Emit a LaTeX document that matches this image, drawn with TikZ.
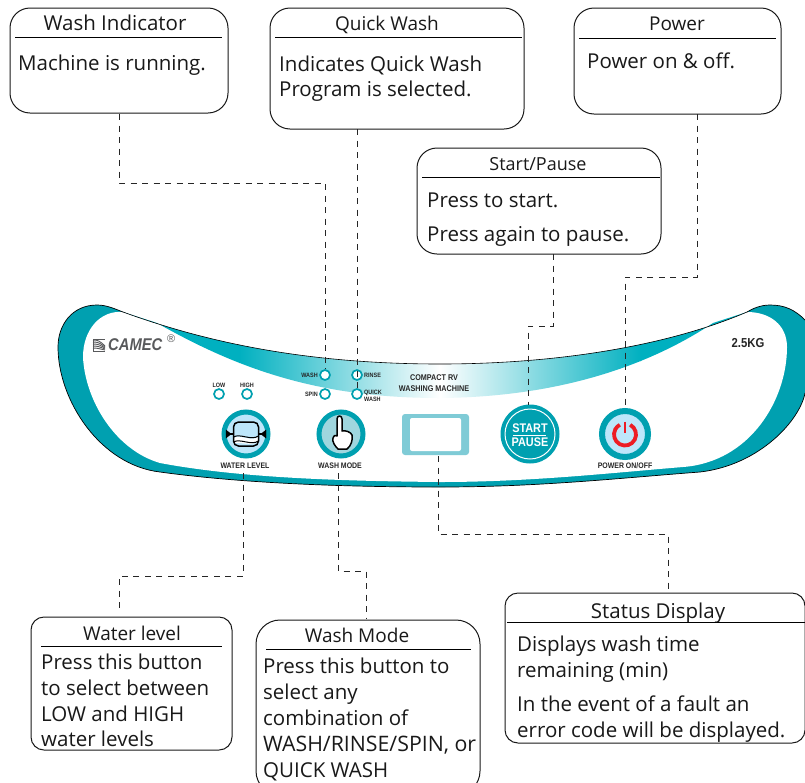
\documentclass[tikz,border=0pt]{standalone}
\usepackage{fontspec}
\setmainfont{Open Sans}
\newfontfamily\labfont[FakeStretch=0.87]{Liberation Sans}
\newfontfamily\plainlab{Liberation Sans}
\usetikzlibrary{calc}
\definecolor{teal1}{HTML}{00A0B0}
\definecolor{teal2}{HTML}{00B0C0}
\definecolor{ltblue}{HTML}{BDE6FA}
\definecolor{ltteal}{HTML}{9FD6DE}
\definecolor{frame}{HTML}{7FCBD6}
\definecolor{pwr}{HTML}{ED1C24}
\definecolor{logo}{HTML}{58595B}
\tikzset{
 callout/.style={draw=black!90,line width=1pt,rounded corners=20pt,fill=white,inner sep=0},
 title/.style={font=\fontsize{19}{19}\selectfont,anchor=base,inner sep=0,text=black!90},
 body/.style={font=\fontsize{20.5}{27}\selectfont,anchor=base west,inner sep=0,text=black!90},
 rule/.style={line width=0.8pt},
 lead/.style={dash pattern=on 6pt off 5.5pt,line width=0.95pt,black!85},
 led/.style={circle,draw=teal1,line width=1.7pt,minimum size=10pt,inner sep=0,fill=white},
 lab/.style={font=\labfont\bfseries\fontsize{6.3}{6.5}\selectfont,inner sep=0,text=black!85,align=center},
 mlab/.style={font=\labfont\bfseries\fontsize{8}{8}\selectfont,inner sep=0,text=black!85},
}
\begin{document}
\begin{tikzpicture}[x=1pt,y=-1pt]
\useasboundingbox (0,0) rectangle (805,782);
\fill[white] (0,0) rectangle (805,782);
% panel
\fill[teal1] (97,305) .. controls (72,305) and (58,325) .. (58,347)
 .. controls (58,400) and (100,465) .. (160,472)
 .. controls (240,483) and (340,487) .. (440,487)
 .. controls (540,487) and (620,478) .. (700,472)
 .. controls (760,465) and (800,420) .. (805,393)
 -- (805,320) .. controls (795,310) and (785,305) .. (770,305)
 .. controls (760,305) and (752,309) .. (747,312)
 -- (123,312) .. controls (115,309) and (107,305) .. (97,305) -- cycle;
\fill[white] (123,312) .. controls (100,310) and (83,330) .. (83,357)
 .. controls (85,400) and (115,450) .. (160,463)
 .. controls (240,478) and (340,481) .. (440,482)
 .. controls (530,482) and (610,473) .. (683,467)
 .. controls (750,462) and (787,400) .. (787,347)
 .. controls (787,325) and (770,312) .. (747,312) -- cycle;
\draw[line width=0.7pt] (123,312) .. controls (115,309) and (107,305) .. (97,305)
 .. controls (72,305) and (58,325) .. (58,347)
 .. controls (58,400) and (100,465) .. (160,472)
 .. controls (240,483) and (340,487) .. (440,487)
 .. controls (540,487) and (620,478) .. (700,472)
 .. controls (760,465) and (800,420) .. (805,393);
\draw[line width=0.7pt] (747,312) .. controls (752,309) and (760,305) .. (770,305) .. controls (785,305) and (795,310) .. (805,320);
\begin{scope}
 \clip (123,312) .. controls (200,340) and (300,364) .. (440,364)
  .. controls (560,364) and (670,345) .. (747,312)
  -- (713,323) .. controls (650,365) and (560,397) .. (440,398)
  .. controls (320,398) and (240,370) .. (157,323) -- cycle;
 \fill[teal2] (100,300) rectangle (240,400);
 \fill[teal2] (640,300) rectangle (760,400);
 \shade[left color=teal2,right color=white] (239,300) rectangle (440,400);
 \shade[left color=white,right color=teal2] (440,300) rectangle (641,400);
\end{scope}
\draw[line width=0.6pt] (123,312) .. controls (200,340) and (300,364) .. (440,364)
  .. controls (560,364) and (670,345) .. (747,312);
% LEDs and labels
\node[led] (low) at (219,394) {};
\node[led] (high) at (247,394) {};
\node[led] (wash) at (325,375) {};
\node[led] (spin) at (325,394) {};
\node[led] (rinse) at (357,375) {};
\node[led] (quick) at (357,394) {};
\node[lab,anchor=south] (tlow) at (219,388) {LOW};
\node[lab,anchor=south] (thigh) at (247,388) {HIGH};
\node[lab,anchor=east] (twash) at (318,375) {WASH};
\node[lab,anchor=east] (tspin) at (318,394) {SPIN};
\node[lab,anchor=west] (trinse) at (364,375) {RINSE};
\node[lab,anchor=west,align=left] (tquick) at (364,396) {QUICK\\WASH};
% logo
\foreach \i in {0,...,4}{\draw[logo,line width=0.9pt] (93,{340+\i*2}) .. controls (98,{340+\i*2}) and (100,{341+\i*2}) .. (105,{346+\i*1});}
\draw[logo,line width=1pt] (93,339) -- (105,339) (93,339) -- (93,351) -- (105,351);
\node[inner sep=0,anchor=west,text=logo,font=\labfont\bfseries\itshape\fontsize{17}{17}\selectfont] (camec) at (108,345) {CAMEC};
\node[inner sep=0,anchor=west,text=logo,font=\plainlab\fontsize{11}{11}\selectfont] (reg) at (167,339) {®};
\node[inner sep=0,font=\labfont\bfseries\fontsize{13}{13}\selectfont,text=black!85] (kg) at (748,343) {2.5KG};
\node[inner sep=0,align=center,font=\labfont\bfseries\fontsize{8.3}{10.5}\selectfont,text=black!85] (compact) at (434,383) {COMPACT RV\\WASHING MACHINE};
% buttons
\node[circle,fill=ltblue,draw=teal1,line width=5pt,minimum size=44pt,inner sep=0] (wl) at (246,434) {};
\node[circle,fill=ltteal,draw=teal1,line width=5pt,minimum size=44pt,inner sep=0] (wm) at (341,434) {};
\node[mlab] (twl) at (245,466) {WATER LEVEL};
\node[mlab] (twm) at (340,466) {WASH MODE};
\begin{scope}[shift={(246,434)}]
 \fill[white] (-12.5,4) .. controls (-6,0) and (5,8) .. (12.5,3) -- (12.5,8) .. controls (6,12) and (-6,8) .. (-12.5,9) -- cycle;
 \draw[line width=1.5pt,rounded corners=5pt] (-12.5,-12) rectangle (12.5,12);
 \draw[fill=black] (-15,0) -- (-20,-4) -- (-20,4) -- cycle;
 \draw[fill=black] (15,0) -- (20,-4) -- (20,4) -- cycle;
 \draw[line width=1.1pt] (-20,0) -- (-12.5,0) (12.5,0) -- (20,0);
 \draw[line width=1pt] (-12.5,3) .. controls (-6,-1) and (5,7) .. (12.5,2);
 \draw[line width=1pt] (-12.5,8) .. controls (-6,4) and (5,12) .. (12.5,7);
\end{scope}
\begin{scope}[shift={(341,434)}]
 \draw[fill=white,line width=1.5pt,line join=round] (-4,2) -- (-4,-15) .. controls (-4,-19) and (1,-19) .. (1,-15) -- (1,-3)
  .. controls (4,-4) and (10,-2) .. (11,1) .. controls (12,6) and (10,12) .. (6,15) -- (-3,15) .. controls (-6,12) and (-9,8) .. (-8,4) .. controls (-7,1) and (-5,1) .. (-4,2) -- cycle;
\end{scope}
% display
\node[fill=frame,rounded corners=3pt,minimum width=67pt,minimum height=41pt,inner sep=0] (disp) at (435.5,434.5) {};
\node[fill=white,rounded corners=2pt,minimum width=51pt,minimum height=33pt,inner sep=0] (dispin) at (435.5,434.5) {};
% start
\node[circle,fill=teal1,minimum size=59pt,inner sep=0] (sp) at (530,434) {};
\draw[white,line width=1pt] (sp.center) circle[radius=25pt];
\node[inner sep=0,text=white,font=\labfont\bfseries\fontsize{12.5}{13}\selectfont] (st) at (530,428) {START};
\node[inner sep=0,text=white,font=\labfont\bfseries\fontsize{12.5}{13}\selectfont] (pa) at (530,442) {PAUSE};
\draw[white,line width=1pt] (513,435) -- (546,435);
% power
\node[circle,fill=ltblue,draw=teal1,line width=6pt,minimum size=46pt,inner sep=0] (pw) at (625,434) {};
\draw[pwr,line width=3.8pt] (625,434.5) ++(62:11pt) arc[start angle=62,end angle=-242,radius=11pt];
\draw[pwr,line width=2.6pt] (625,421.5) -- (625,433);
\node[mlab] (tpw) at (625,466) {POWER ON/OFF};
% callouts
\node[callout,minimum width=218pt,minimum height=105pt] (ci) at (119,60.5) {};
\node[callout,minimum width=254pt,minimum height=121pt] (cq) at (397,68.5) {};
\node[callout,minimum width=207pt,minimum height=106pt] (cp) at (677.5,61) {};
\node[callout,minimum width=244pt,minimum height=106pt] (cs) at (539,201) {};
\node[callout,rounded corners=13pt,minimum width=201pt,minimum height=133pt] (cw) at (131.5,683.5) {};
\node[callout,rounded corners=24pt,minimum width=224pt,minimum height=175pt] (cm) at (368,707.5) {};
\node[callout,rounded corners=13pt,minimum width=300pt,minimum height=150pt] (cd) at (655,668) {};
% titles
\node[title,font=\fontsize{20.5}{20}\selectfont] (t1) at (115,30) {Wash Indicator};
\node[title] (t2) at (387,30) {Quick Wash};
\node[title] (t3) at (677,30) {Power};
\node[title,font=\fontsize{18}{18}\selectfont] (t4) at (538,170) {Start/Pause};
\node[title] (t5) at (132,640) {Water level};
\node[title] (t6) at (357,642) {Wash Mode};
\node[title,font=\fontsize{20.5}{20}\selectfont] (t7) at (658,618) {Status Display};
\draw[rule] (15,37) -- (222,37);
\draw[rule] (275,37) -- (522,37);
\draw[rule] (579,38) -- (776,38);
\draw[rule] (422,177) -- (660,177);
\draw[rule] (41,646.5) -- (222,646.5);
\draw[rule] (266,649) -- (471,649);
\draw[rule] (507,622) -- (805,622);
% bodies
\node[body] (b1) at (18,70) {Machine is running.};
\node[body] (b2) at (279,71) {Indicates Quick Wash};
\node[body] (b3) at (279,96) {Program is selected.};
\node[body] (b4) at (587,68) {Power on \& off.};
\node[body] (b5) at (427,207) {Press to start.};
\node[body] (b6) at (427,241) {Press again to pause.};
\node[body] (b7) at (41,669) {Press this button};
\node[body] (b8) at (41,695) {to select between};
\node[body] (b9) at (41,721) {LOW and HIGH};
\node[body] (b10) at (41,746) {water levels};
\node[body] (b11) at (263,673) {Press this button to};
\node[body] (b12) at (263,699) {select any};
\node[body] (b13) at (263,725) {combination of};
\node[body,font=\fontsize{21.3}{27}\selectfont] (b14) at (263,751) {WASH/RINSE/SPIN, or};
\node[body] (b15) at (263,777) {QUICK WASH};
\node[body] (b16) at (517,651) {Displays wash time};
\node[body] (b17) at (517,677) {remaining (min)};
\node[body] (b18) at (517,711) {In the event of a fault an};
\node[body] (b19) at (517,737) {error code will be displayed.};
% leaders
\coordinate (a1) at (119,183); \coordinate (a2) at (325,183);
\coordinate (c1) at (553,326); \coordinate (c2) at (528,326); \coordinate (c3) at (528,405);
\coordinate (e1) at (697,277); \coordinate (e2) at (625,277);
\coordinate (f0) at (243,473); \coordinate (f1) at (243,576); \coordinate (f2) at (119,576); \coordinate (f3) at (119,612);
\coordinate (g0) at (338,473); \coordinate (g1) at (338,571); \coordinate (g2) at (366,571); \coordinate (g3) at (366,618);
\coordinate (h0) at (438,456); \coordinate (h1) at (438,534); \coordinate (h2) at (668,534); \coordinate (h3) at (668,591);
\draw[lead] (119,114) -- (a1) -- (a2) -- (wash.north);
\draw[lead] (357,129) -- (quick.north);
\draw[lead] (553,254) -- (c1) -- (c2) -- (c3);
\draw[lead] (697,114) -- (e1) -- (e2) -- (pw.north);
\draw[lead] (f0) -- (f1) -- (f2) -- (f3);
\draw[lead] (g0) -- (g1) -- (g2) -- (g3);
\draw[lead] (h0) -- (h1) -- (h2) -- (h3);
\end{tikzpicture}
\end{document}
